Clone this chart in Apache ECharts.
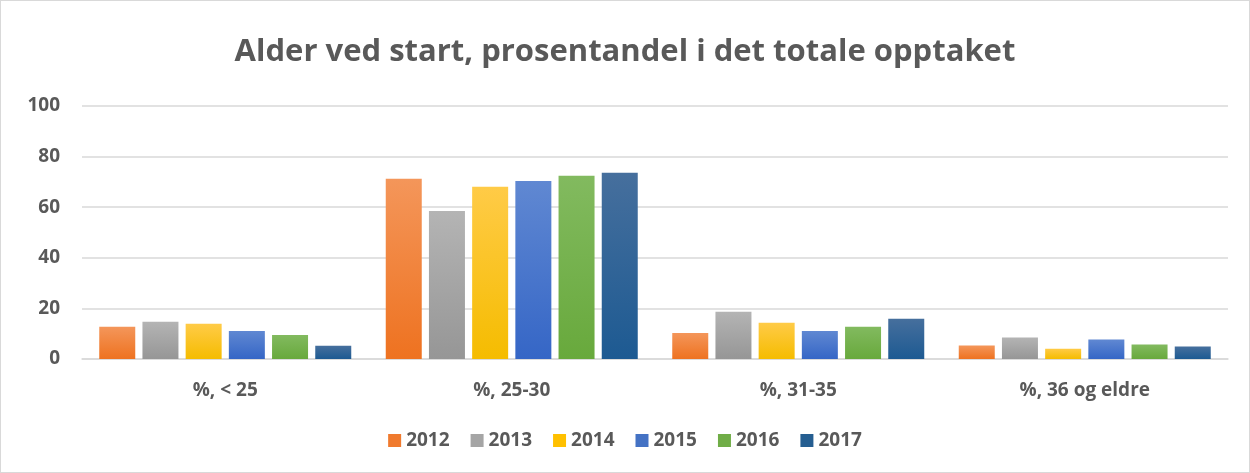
<!DOCTYPE html>
<html>
<head>
<meta charset="utf-8">
<script src="https://cdn.jsdelivr.net/npm/echarts@6/dist/echarts.min.js"></script>
<style>
html,body{margin:0;padding:0;background:#fff;}
#frame{position:absolute;left:0;top:0;width:1248px;height:471px;border:1px solid #d9d9d9;}
#chart{position:absolute;left:0;top:0;width:1250px;height:473px;}
</style>
</head>
<body>
<div id="frame"></div>
<div id="chart"></div>
<script>
const categories = ['%, < 25', '%, 25-30', '%, 31-35', '%, 36 og eldre'];
const years = ['2012', '2013', '2014', '2015', '2016', '2017'];
const v2012 = [12.7, 71.2, 10.3, 5.3];
const v2013 = [14.7, 58.5, 18.7, 8.5];
const v2014 = [13.9, 68.1, 14.3, 4.1];
const v2015 = [11.1, 70.4, 11.1, 7.7];
const v2016 = [9.5, 72.4, 12.7, 5.7];
const v2017 = [5.2, 73.6, 15.9, 4.9];
const yTicks = [0, 20, 40, 60, 80, 100];

const seriesValues = [v2012, v2013, v2014, v2015, v2016, v2017];
const topColors = ['#F4965A', '#B4B4B4', '#FFCB47', '#6088D2', '#82BA5F', '#466F9D'];
const bottomColors = ['#EE7220', '#969696', '#F5BC00', '#3566C6', '#68A93C', '#1D5A92'];
const legendColors = ['#F07A2E', '#A5A5A5', '#FFC000', '#4472C4', '#70AD47', '#255E91'];

const chart = echarts.init(document.getElementById('chart'));
const font = '"Open Sans", "Liberation Sans", sans-serif';
chart.setOption({
  animation: false,
  textStyle: {fontFamily: font},
  title: {
    text: 'Alder ved start, prosentandel i det totale opptaket',
    left: 'center', top: 32,
    textStyle: {fontSize: 31, fontWeight: 'bold', color: '#595959', fontFamily: font}
  },
  legend: {
    data: years.map((y, i) => ({name: y, itemStyle: {color: legendColors[i]}})),
    bottom: 18, left: 'center',
    icon: 'rect', itemWidth: 13, itemHeight: 13, itemGap: 21,
    textStyle: {fontSize: 19, fontWeight: 'bold', color: '#595959', fontFamily: font}
  },
  grid: {left: 82, right: 22, top: 106, bottom: 114, containLabel: false},
  xAxis: {
    type: 'category', data: categories,
    axisLine: {lineStyle: {color: '#d9d9d9', width: 1.5}},
    axisTick: {show: false},
    axisLabel: {fontSize: 19, fontWeight: 'bold', color: '#595959', margin: 22, fontFamily: font}
  },
  yAxis: {
    type: 'value', min: 0, max: 100, interval: 20,
    axisLine: {show: false}, axisTick: {show: false},
    splitLine: {lineStyle: {color: '#d9d9d9', width: 1.5}},
    axisLabel: {fontSize: 19, fontWeight: 'bold', color: '#595959', margin: 22, fontFamily: font,
      formatter: v => yTicks.includes(v) ? String(v) : ''}
  },
  series: years.map((y, i) => ({
    name: y, type: 'bar', data: seriesValues[i],
    barWidth: 36, barGap: '20%',
    itemStyle: {
      color: new echarts.graphic.LinearGradient(0, 0, 0, 1, [
        {offset: 0, color: topColors[i]}, {offset: 1, color: bottomColors[i]}
      ])
    }
  }))
});
</script>
</body>
</html>
